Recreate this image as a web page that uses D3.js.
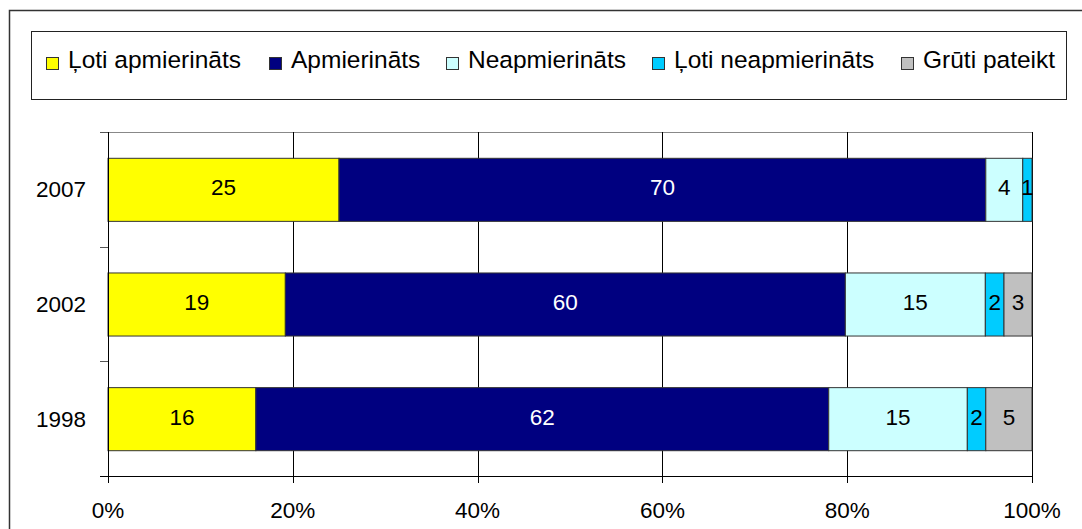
<!DOCTYPE html>
<html lang="lv">
<head>
<meta charset="UTF-8">
<title>Apmierinātība</title>
<style>
  body { margin: 0; background: #fff; }
  text { font-family: "Liberation Sans", Arial, sans-serif; font-size: 22.5px; fill: #000; }
  .legend text { font-size: 24.5px; }
  .grid-line { stroke: #000; stroke-width: 1px; }
  .bar { stroke: #333; stroke-width: 1px; }
</style>
</head>
<body>
<div id="container"></div>
<script src="https://d3js.org/d3.v7.min.js"></script>
<script>
// categories top to bottom
const years = ["2007", "2002", "1998"];
const seriesNames = ["Ļoti apmierināts", "Apmierināts", "Neapmierināts", "Ļoti neapmierināts", "Grūti pateikt"];
const seriesColors = ["#FFFF00", "#000080", "#CCFFFF", "#00CCFF", "#C0C0C0"];
const labelColors = ["#000", "#fff", "#000", "#000", "#000"];
// values per year, same order as seriesNames
const values2007 = [25, 70, 4, 1, 0];
const values2002 = [19, 60, 15, 2, 3];
const values1998 = [16, 62, 15, 2, 5];
const xTicks = [0, 0.2, 0.4, 0.6, 0.8, 1];

const rows = [values2007, values2002, values1998];

const W = 1082, H = 529;
const margin = { top: 132, right: 50, bottom: 53, left: 108 };
const width = W - margin.left - margin.right,
      height = H - margin.top - margin.bottom;

const svg = d3.select("#container").append("svg")
    .attr("width", W).attr("height", H);

// outer chart frame (runs off the picture to the right and bottom)
svg.append("rect")
    .attr("x", 9.5).attr("y", 10.5)
    .attr("width", 1100).attr("height", 600)
    .attr("fill", "none").attr("stroke", "#333").attr("stroke-width", 1.5);

// legend box
const legend = svg.append("g").attr("class", "legend");
legend.append("rect")
    .attr("x", 31.5).attr("y", 31.5)
    .attr("width", 1035).attr("height", 68)
    .attr("fill", "#fff").attr("stroke", "#222").attr("stroke-width", 1);

const legendX = [46, 269, 446, 652, 901];
seriesNames.forEach(function (name, i) {
    legend.append("rect")
        .attr("x", legendX[i] + 0.5).attr("y", 57.5)
        .attr("width", 12).attr("height", 12)
        .attr("fill", seriesColors[i]).attr("stroke", "#333");
    legend.append("text")
        .attr("x", legendX[i] + 22).attr("y", 68)
        .text(name);
});

const g = svg.append("g")
    .attr("transform", "translate(" + margin.left + "," + margin.top + ")");

const x = d3.scaleLinear().domain([0, 1]).range([0, width]);
const y = d3.scaleBand().domain(years).range([0, height])
    .paddingInner(0.45).paddingOuter(0.225);
const yBand = d3.scaleBand().domain(years).range([0, height]);

// plot top border (grey)
g.append("line")
    .attr("x1", -8).attr("x2", width).attr("y1", 0.5).attr("y2", 0.5)
    .attr("stroke", "#888");

// vertical grid lines
g.selectAll(".grid-line").data(xTicks.slice(1)).enter().append("line")
    .attr("class", "grid-line")
    .attr("x1", d => Math.round(x(d)) + 0.5).attr("x2", d => Math.round(x(d)) + 0.5)
    .attr("y1", 0).attr("y2", height + 7);

// stacked bars
rows.forEach(function (vals, r) {
    const total = d3.sum(vals);
    let acc = 0;
    const row = g.append("g");
    vals.forEach(function (v, i) {
        if (v === 0) return;
        const x0 = x(acc / total), x1 = x((acc + v) / total);
        acc += v;
        row.append("rect")
            .attr("class", "bar")
            .attr("x", x0).attr("width", x1 - x0)
            .attr("y", y(years[r]) + 0.5).attr("height", y.bandwidth())
            .attr("fill", seriesColors[i]);
        row.append("text")
            .attr("x", (x0 + x1) / 2)
            .attr("y", y(years[r]) + y.bandwidth() / 2 + 6)
            .attr("text-anchor", "middle")
            .style("fill", labelColors[i])
            .text(v);
    });
});

// y axis
const yAxis = g.append("g");
yAxis.append("line")
    .attr("x1", 0.5).attr("x2", 0.5).attr("y1", 0).attr("y2", height + 7)
    .attr("stroke", "#000");
yAxis.selectAll(".ytick").data(d3.range(years.length + 1)).enter().append("line")
    .attr("x1", -8).attr("x2", 0)
    .attr("y1", d => Math.round(d * yBand.step()) + 0.5)
    .attr("y2", d => Math.round(d * yBand.step()) + 0.5)
    .attr("stroke", "#555");
yAxis.selectAll("text").data(years).enter().append("text")
    .attr("x", -22)
    .attr("y", d => yBand(d) + yBand.bandwidth() / 2 + 8)
    .attr("text-anchor", "end")
    .text(d => d);

// x axis
const xAxis = g.append("g").attr("transform", "translate(0," + height + ")");
xAxis.append("line")
    .attr("x1", -8).attr("x2", width).attr("y1", 0.5).attr("y2", 0.5)
    .attr("stroke", "#000");
xAxis.selectAll("line.tick").data(xTicks).enter().append("line")
    .attr("class", "tick")
    .attr("x1", d => Math.round(x(d)) + 0.5).attr("x2", d => Math.round(x(d)) + 0.5)
    .attr("y1", 0).attr("y2", 7)
    .attr("stroke", "#000");
xAxis.selectAll("text").data(xTicks).enter().append("text")
    .attr("x", d => x(d))
    .attr("y", 42)
    .attr("text-anchor", "middle")
    .text(d3.format(".0%"));
</script>
</body>
</html>
